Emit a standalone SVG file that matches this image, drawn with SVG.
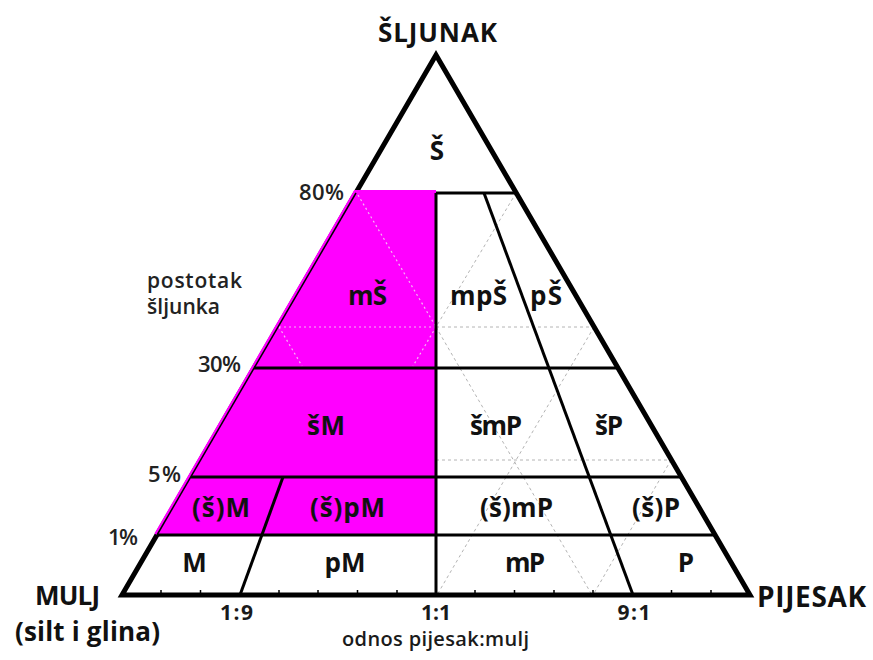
<svg xmlns="http://www.w3.org/2000/svg" width="873" height="660" viewBox="0 0 873 660">
<style>
text{font-family:"Open Sans",Lato,"Liberation Sans",sans-serif}
.lbl{font-weight:bold;fill:#111;text-anchor:middle;font-size:26px}
.ax{font-weight:bold;fill:#111}
.rt{font-weight:bold;fill:#1a1a1a;text-anchor:middle;font-size:21px}
.pc{fill:#222;text-anchor:end;font-size:22px;font-weight:600}
.ln{stroke:#000;stroke-width:3;fill:none}
.dg{stroke:#b4b4b4;stroke-width:1;stroke-dasharray:3 3;fill:none}
.dp{stroke:#f6b6f6;stroke-width:1.2;stroke-dasharray:2 3;fill:none}
.tk{stroke:#000;stroke-width:1.5}
</style>
<rect width="873" height="660" fill="#fff"/>
<g id="grid">
<line class="dg" x1="516" y1="193" x2="436" y2="327"/>
<line class="dg" x1="436" y1="327" x2="594" y2="327"/>
<line class="dg" x1="436" y1="327" x2="592" y2="595"/>
<line class="dg" x1="594" y1="327" x2="437" y2="595"/>
<line class="dg" x1="436" y1="460" x2="671" y2="460"/>
<line class="dg" x1="671" y1="460" x2="593" y2="595"/>
</g>
<g id="outline">
<polygon points="436,55 122,595 750,595" fill="none" stroke="#000" stroke-width="5" stroke-linejoin="miter"/>
</g>
<g id="magenta">
<polygon points="356,193 436,193 436,535 157,535" fill="#ff00ff"/>
<polyline points="157,535 356,193 436,193" fill="none" stroke="#ff00ff" stroke-width="6"/>
<line class="dp" x1="358" y1="195" x2="436" y2="327"/>
<line class="dp" x1="279" y1="327" x2="436" y2="327"/>
<line class="dp" x1="279" y1="327" x2="302" y2="366"/>
<line class="dp" x1="436" y1="327" x2="413" y2="366"/>
</g>
<g id="connectors">
<line class="ln" x1="436" y1="193" x2="516" y2="193"/>
<line class="ln" x1="254" y1="368" x2="618" y2="368"/>
<line class="ln" x1="191" y1="477" x2="681" y2="477"/>
<line class="ln" x1="157" y1="535" x2="715" y2="535"/>
<line class="ln" x1="436" y1="193" x2="436" y2="595"/>
<line class="ln" x1="283" y1="477" x2="240" y2="595"/>
<line class="ln" x1="484" y1="193" x2="633" y2="595"/>
<line x1="157" y1="535" x2="356" y2="193" stroke="#000" stroke-width="1.5"/>
<g id="ticks">
<line class="tk" x1="161" y1="595" x2="161" y2="590"/>
<line class="tk" x1="200.5" y1="595" x2="200.5" y2="590"/>
<line class="tk" x1="279" y1="595" x2="279" y2="590"/>
<line class="tk" x1="318" y1="595" x2="318" y2="590"/>
<line class="tk" x1="357.5" y1="595" x2="357.5" y2="590"/>
<line class="tk" x1="397" y1="595" x2="397" y2="590"/>
<line class="tk" x1="475" y1="595" x2="475" y2="590"/>
<line class="tk" x1="514.5" y1="595" x2="514.5" y2="590"/>
<line class="tk" x1="554" y1="595" x2="554" y2="590"/>
<line class="tk" x1="593" y1="595" x2="593" y2="590"/>
<line class="tk" x1="671.5" y1="595" x2="671.5" y2="590"/>
<line class="tk" x1="711" y1="595" x2="711" y2="590"/>
</g>
</g>
<g id="n-S"><text class="lbl" x="437" y="160" font-size="27">Š</text></g>
<g id="n-mS"><text class="lbl" x="367.5" y="305" textLength="39">mŠ</text></g>
<g id="n-mpS"><text class="lbl" x="478.5" y="305" textLength="57">mpŠ</text></g>
<g id="n-pS"><text class="lbl" x="546" y="305" textLength="32">pŠ</text></g>
<g id="n-sM"><text class="lbl" x="326" y="435" textLength="38">šM</text></g>
<g id="n-smP"><text class="lbl" x="496" y="435" textLength="52">šmP</text></g>
<g id="n-sP"><text class="lbl" x="609" y="435" textLength="28">šP</text></g>
<g id="n-(s)M"><text class="lbl" x="221" y="517" textLength="58">(š)M</text></g>
<g id="n-(s)pM"><text class="lbl" x="347.5" y="517" textLength="75">(š)pM</text></g>
<g id="n-(s)mP"><text class="lbl" x="516.5" y="517" textLength="73">(š)mP</text></g>
<g id="n-(s)P"><text class="lbl" x="656" y="517" textLength="48">(š)P</text></g>
<g id="n-M"><text class="lbl" x="194.5" y="572">M</text></g>
<g id="n-pM"><text class="lbl" x="345" y="572" font-size="27">pM</text></g>
<g id="n-mP"><text class="lbl" x="525" y="572" textLength="40">mP</text></g>
<g id="n-P"><text class="lbl" x="686" y="572">P</text></g>
<g id="axes">
<text class="lbl" x="437.5" y="42" font-size="27" textLength="119">ŠLJUNAK</text>
<text class="lbl" x="67.5" y="605" font-size="25" textLength="65">MULJ</text>
<text class="lbl" x="87.5" y="641" font-size="24" textLength="145">(silt i glina)</text>
<text class="ax" x="757" y="607" font-size="28" textLength="109">PIJESAK</text>
<text class="rt" x="236.5" y="620" textLength="33">1:9</text>
<text class="rt" x="436" y="620" textLength="30">1:1</text>
<text class="rt" x="634" y="620" textLength="33">9:1</text>
<text x="435.5" y="646" font-size="20" font-weight="600" fill="#1a1a1a" text-anchor="middle" textLength="187">odnos pijesak:mulj</text>
<text class="pc" x="344" y="200" textLength="45">80%</text>
<text class="pc" x="241" y="372" textLength="43">30%</text>
<text class="pc" x="181" y="482" textLength="33">5%</text>
<text class="pc" x="138" y="545" textLength="30">1%</text>
<text x="147" y="288" font-size="21" font-weight="600" fill="#222" textLength="95">postotak</text>
<text x="147" y="314" font-size="21" font-weight="600" fill="#222" textLength="73">šljunka</text>
</g>
</svg>
